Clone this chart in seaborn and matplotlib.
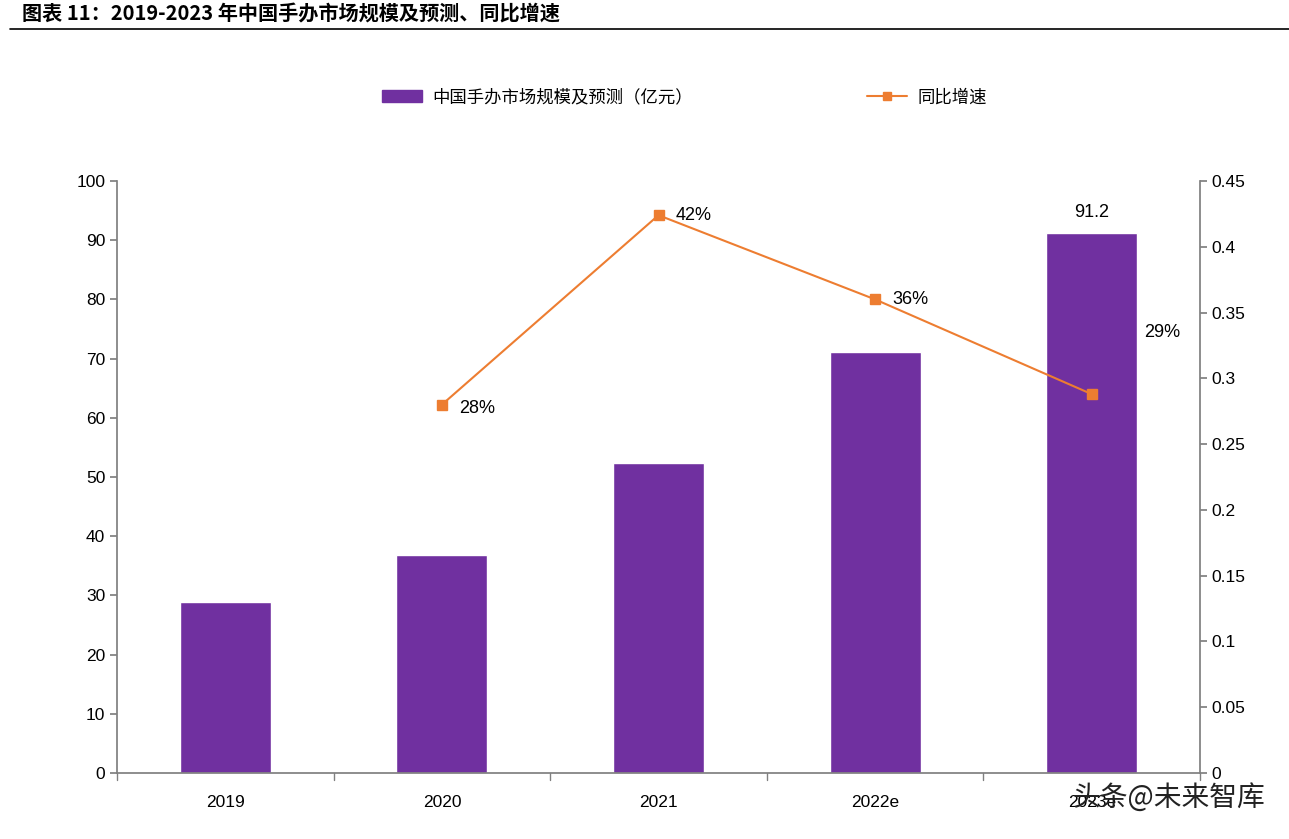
"""
2019-2023 China figure (手办) market size and YoY growth.
"""

import matplotlib.pyplot as plt
import pandas as pd
import seaborn as sns
from matplotlib.lines import Line2D
from matplotlib.patches import Patch

years = ["2019", "2020", "2021", "2022e", "2023e"]
market_size = [28.9, 36.8, 52.4, 71.1, 91.2]
growth_years = ["2020", "2021", "2022e", "2023e"]
growth = [0.28, 0.424, 0.36, 0.288]
growth_labels = ["28%", "42%", "36%", "29%"]

bar_name = "中国手办市场规模及预测（亿元）"
line_name = "同比增速"
title = "图表 11：2019-2023 年中国手办市场规模及预测、同比增速"

PURPLE = "#7030A0"
ORANGE = "#ED7D31"
GREY = "#808080"

sns.set_theme(style="white")
plt.rcParams["font.family"] = ["Liberation Sans", "Noto Sans CJK SC", "DejaVu Sans"]
plt.rcParams["text.color"] = "black"
plt.rcParams["xtick.color"] = "black"
plt.rcParams["ytick.color"] = "black"

df = pd.DataFrame({"year": years, "size": market_size})

fig = plt.figure(figsize=(12.89, 8.39), dpi=100)
ax = fig.add_axes([117 / 1289, 1 - 773 / 839, (1200 - 117) / 1289, (773 - 181) / 839])

sns.barplot(data=df, x="year", y="size", color=PURPLE, saturation=1, width=0.42, ax=ax)
ax.set_xlim(-0.5, len(years) - 0.5)
ax.set_ylim(0, 100)
ax.set_yticks(range(0, 101, 10))
ax.set_xlabel("")
ax.set_ylabel("")

# value label only on last bar
ax.text(4, market_size[-1] + 2, f"{market_size[-1]}", ha="center", va="bottom", fontsize=13)

# category boundary ticks on x-axis
ax.set_xticks(range(len(years)))
ax.set_xticklabels(years, fontsize=12.5)
ax.tick_params(axis="x", length=0, pad=16)
for b in [i - 0.5 for i in range(len(years) + 1)]:
    ax.plot([b, b], [0, -1.2], color=GREY, lw=1, clip_on=False)
ax.tick_params(axis="y", direction="out", length=5, color=GREY, labelsize=12.5, left=True)

for s in ["top", "right"]:
    ax.spines[s].set_visible(False)
for s in ["left", "bottom"]:
    ax.spines[s].set_color(GREY)

ax2 = ax.twinx()
xpos = [years.index(y) for y in growth_years]
ax2.plot(xpos, growth, color=ORANGE, lw=1.5, marker="s", markersize=7)
ax2.set_ylim(0, 0.45)
ax2.set_yticks([0, 0.05, 0.1, 0.15, 0.2, 0.25, 0.3, 0.35, 0.4, 0.45])
ax2.set_yticklabels(["0", "0.05", "0.1", "0.15", "0.2", "0.25", "0.3", "0.35", "0.4", "0.45"])
ax2.tick_params(axis="y", direction="out", length=5, color=GREY, labelsize=12.5, right=True)
for s in ["top", "left", "bottom"]:
    ax2.spines[s].set_visible(False)
ax2.spines["right"].set_color(GREY)
ax2.grid(False)

offsets = [(0.08, -0.003), (0.08, 0.0), (0.08, 0.0), (0.24, 0.047)]
for x, y, lab, (dx, dy) in zip(xpos, growth, growth_labels, offsets):
    ax2.text(x + dx, y + dy, lab, ha="left", va="center", fontsize=13)

# legend
handles = [
    Patch(facecolor=PURPLE, edgecolor=PURPLE),
    Line2D([0], [0], color=ORANGE, lw=1.5, marker="s", markersize=6),
]
fig.legend(
    handles, [bar_name, line_name], loc="center", bbox_to_anchor=(0.531, 1 - 97 / 839),
    ncol=2, frameon=False, fontsize=12.5, columnspacing=10, handlelength=2.3,
    handletextpad=0.6,
)

# title and rule
fig.text(22 / 1289, 1 - 14 / 839, title, fontsize=14.5, fontweight="bold",
         ha="left", va="center", family=["Noto Sans CJK SC", "DejaVu Sans"])
fig.add_artist(Line2D([10 / 1289, 1], [1 - 29 / 839] * 2, color="black", lw=1.2))

# watermark
fig.text(1265 / 1289, 1 - 798 / 839, "头条@未来智库", fontsize=20, ha="right", va="center",
         color="#222222", family=["Noto Sans CJK SC", "DejaVu Sans"])

plt.savefig("out.png", dpi=100)
